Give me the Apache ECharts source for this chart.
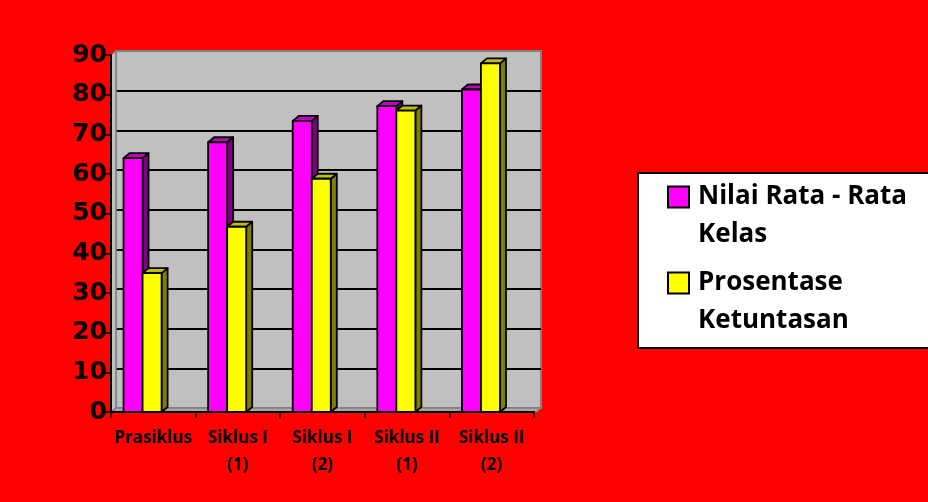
<!DOCTYPE html>
<html>
<head>
<meta charset="utf-8">
<script src="https://cdn.jsdelivr.net/npm/echarts@6/dist/echarts.min.js"></script>
<style>
html,body{margin:0;padding:0;background:#FF0000;}
#c{width:928px;height:502px;}
</style>
</head>
<body>
<div id="c"></div>
<script>
const categories = ['Prasiklus', 'Siklus I\n(1)', 'Siklus I\n(2)', 'Siklus II\n(1)', 'Siklus II\n(2)'];
const seriesNames = ['Nilai Rata - Rata Kelas', 'Prosentase Ketuntasan'];
const nilaiRataRata = [64, 68, 73.4, 77.1, 81.3];
const prosentaseKetuntasan = [35, 46.7, 58.8, 76, 87.9];
const yTicks = [0, 10, 20, 30, 40, 50, 60, 70, 80, 90];

// layout constants (front plane and back wall)
const F = {left: 111, right: 394, top: 55, bottom: 90};
const B = {left: 116, right: 387, top: 51, bottom: 94};
const DX = 6, DY = 5;
const W = 928, H = 502;

const chart = echarts.init(document.getElementById('c'));

function make3DBar(offFrac, widFrac, front, side, top) {
  return function (params, api) {
    const i = api.value(0);
    const v = api.value(1);
    const base = api.coord([i, 0]);
    const tp = api.coord([i, v]);
    const band = api.size([1, 0])[0];
    const start = base[0] - band / 2;
    const x1 = start + band * offFrac;
    const x2 = x1 + band * widFrac;
    const yb = base[1];
    const yt = tp[1];
    const st = {stroke: '#000', lineWidth: 1.8, lineJoin: 'round'};
    return {
      type: 'group',
      children: [
        {type: 'polygon', shape: {points: [[x2, yt], [x2 + DX, yt - DY], [x2 + DX, yb - DY], [x2, yb]]},
         style: Object.assign({fill: side}, st)},
        {type: 'polygon', shape: {points: [[x1, yt], [x1 + DX, yt - DY], [x2 + DX, yt - DY], [x2, yt]]},
         style: Object.assign({fill: top}, st)},
        {type: 'rect', shape: {x: x1, y: yt, width: x2 - x1, height: yb - yt},
         style: Object.assign({fill: front}, st)}
      ]
    };
  };
}

const gridColors = yTicks.map((t, k) => (k === 0 || k === yTicks.length - 1) ? '#808080' : '#000');

const option = {
  backgroundColor: '#FF0000',
  animation: false,
  grid: [
    {left: F.left, right: F.right, top: F.top, bottom: F.bottom, show: false},
    {left: B.left, right: B.right, top: B.top, bottom: B.bottom, show: true,
     backgroundColor: '#C0C0C0', borderColor: '#808080', borderWidth: 2, z: 0}
  ],
  xAxis: [
    {type: 'category', gridIndex: 0, data: categories, z: 10,
     axisLine: {show: true, lineStyle: {color: '#000', width: 2}},
     axisTick: {show: true, length: 6, lineStyle: {color: '#000', width: 1.5}},
     axisLabel: {interval: 0, margin: 13, color: '#000', fontFamily: 'Open Sans', fontWeight: 'bold',
                 fontSize: 17, lineHeight: 27}},
    {type: 'category', gridIndex: 1, data: categories, show: false}
  ],
  yAxis: [
    {type: 'value', gridIndex: 0, min: 0, max: 90, interval: 10, z: 10,
     axisLine: {show: true, lineStyle: {color: '#000', width: 2}},
     axisTick: {show: true, length: 6, lineStyle: {color: '#000', width: 1.5}},
     splitLine: {show: false},
     axisLabel: {margin: 4, color: '#000', fontFamily: 'DejaVu Sans', fontWeight: 'bold', fontSize: 25,
                 formatter: v => String(v)}},
    {type: 'value', gridIndex: 1, min: 0, max: 90, interval: 10, z: 1,
     axisLine: {show: false}, axisTick: {show: false}, axisLabel: {show: false},
     splitLine: {show: true, lineStyle: {color: gridColors, width: 2}}}
  ],
  graphic: [
    {type: 'polygon', z: 2, silent: true,
     shape: {points: [[F.left, F.top], [B.left, B.top], [B.left, H - B.bottom], [F.left, H - F.bottom]]},
     style: {fill: '#C0C0C0', stroke: '#808080', lineWidth: 1.5}},
    {type: 'polygon', z: 2, silent: true,
     shape: {points: [[F.left, H - F.bottom], [B.left, H - B.bottom], [W - B.right, H - B.bottom], [W - B.right - DX + 1, H - F.bottom]]},
     style: {fill: '#A8A8A8', stroke: '#808080', lineWidth: 1.5}}
  ],
  legend: {
    orient: 'vertical', left: 638, top: 173,
    padding: [4, 320, 7, 29], itemGap: 8,
    backgroundColor: '#FFFFFF', borderColor: '#000', borderWidth: 2,
    itemWidth: 21, itemHeight: 76,
    icon: 'path://M0,8.5h21v21h-21z M0,0 M21,76',
    itemStyle: {borderColor: '#000', borderWidth: 2},
    data: seriesNames,
    formatter: n => n === seriesNames[0] ? 'Nilai Rata - Rata\nKelas' : 'Prosentase\nKetuntasan',
    textStyle: {fontFamily: 'Open Sans', fontWeight: 'bold', fontSize: 26, lineHeight: 38, color: '#000',
                padding: [0, 0, 0, 4]}
  },
  series: [
    {name: seriesNames[0], type: 'custom', xAxisIndex: 0, yAxisIndex: 0, z: 5,
     itemStyle: {color: '#FF00FF'},
     renderItem: make3DBar(0.148, 0.225, '#FF00FF', '#800080', '#C000C0'),
     data: nilaiRataRata.map((v, i) => [i, v])},
    {name: seriesNames[1], type: 'custom', xAxisIndex: 0, yAxisIndex: 0, z: 6,
     itemStyle: {color: '#FFFF00'},
     renderItem: make3DBar(0.373, 0.225, '#FFFF00', '#808000', '#C0C000'),
     data: prosentaseKetuntasan.map((v, i) => [i, v])}
  ]
};
chart.setOption(option);
</script>
</body>
</html>
